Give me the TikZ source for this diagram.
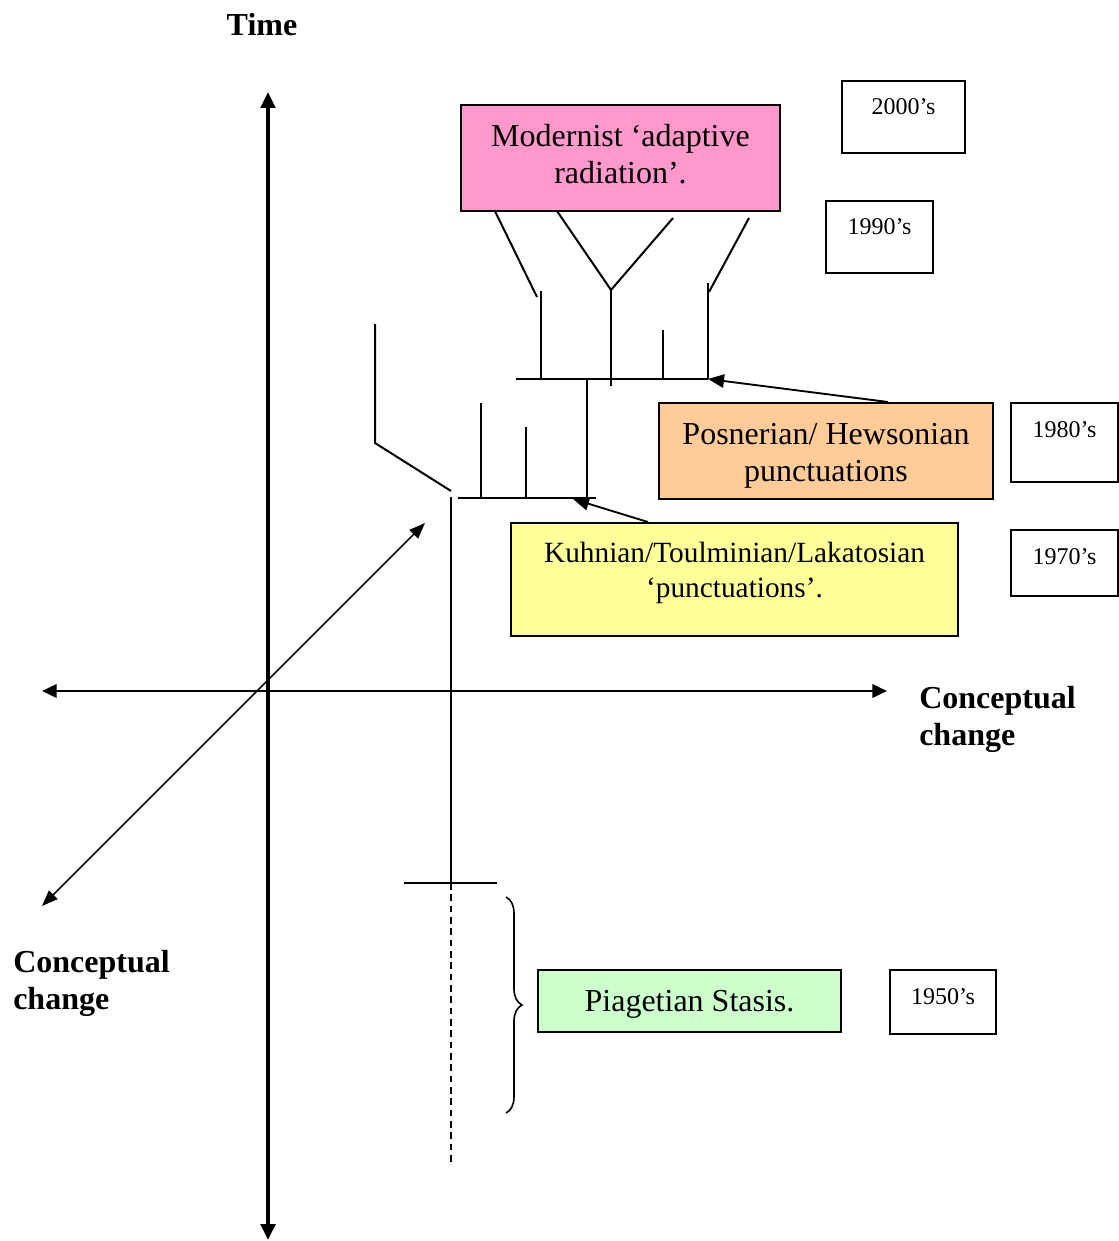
\documentclass[tikz,border=0pt]{standalone}
\usepackage{fontspec}
\setmainfont{Liberation Serif}
\usetikzlibrary{arrows.meta,decorations.pathreplacing}
\definecolor{pinkc}{HTML}{FF99CC}
\definecolor{orangec}{HTML}{FFCC99}
\definecolor{yellowc}{HTML}{FFFF99}
\definecolor{greenc}{HTML}{CCFFCC}
\begin{document}
\begin{tikzpicture}[x=0.75pt,y=-0.75pt,
  vaxis/.style={line width=2.6pt,{Triangle[length=12pt,width=11pt]}-{Triangle[length=12pt,width=11pt]}},
  haxis/.style={line width=1.9pt,{Triangle[length=11pt,width=10pt]}-{Triangle[length=11pt,width=10pt]}},
  daxis/.style={line width=1.3pt,{Triangle[length=12pt,width=9pt]}-{Triangle[length=12pt,width=9pt]}},
  tree/.style={line width=1.5pt},
  ptr/.style={line width=1.4pt,-{Triangle[length=12pt,width=10pt]}},
  box/.style={draw,line width=1.5pt,inner sep=0pt,align=center,font=\fontsize{24}{27.75}\selectfont},
  yearbox/.style={draw,line width=1.5pt,inner sep=0pt},
  yeartext/.style={font=\fontsize{18}{21}\selectfont,inner sep=0pt},
  axlabel/.style={font=\fontsize{24}{27.75}\selectfont\bfseries,align=left,inner sep=0pt}
]
\useasboundingbox (0,0) rectangle (1118,1241);

% axes
\coordinate (vtop) at (268,92);
\coordinate (vbot) at (268,1240);
\coordinate (hl) at (42,691);
\coordinate (hr) at (887,691);
\coordinate (dl) at (42,906);
\coordinate (dr) at (425,523);
\draw[vaxis] (vbot) -- (vtop);
\draw[haxis] (hl) -- (hr);
\draw[daxis] (dl) -- (dr);

\node[axlabel] (timelab) at (262,25) {Time};
\node[axlabel,anchor=north west] (cright) at (919,686) {Conceptual\\change};
\node[axlabel,anchor=north west] (cleft) at (13,950) {Conceptual\\change};

% tree coordinates
\coordinate (trtop) at (451,497);
\coordinate (trbase) at (451,883);
\coordinate (trend) at (451,1163);
\coordinate (bl) at (404,883);
\coordinate (br) at (497,883);
\coordinate (lb1) at (375,324);
\coordinate (lb2) at (375,443);
\coordinate (lb3) at (451,491);
\coordinate (lwl) at (458,498);
\coordinate (lwr) at (596,498);
\coordinate (lw1t) at (481,403);
\coordinate (lw1b) at (481,498);
\coordinate (lw2t) at (526,427);
\coordinate (lw2b) at (526,498);
\coordinate (cnt) at (587,379);
\coordinate (cnb) at (587,498);
\coordinate (upl) at (516,379);
\coordinate (upr) at (708,379);
\coordinate (u1t) at (541,291);
\coordinate (u1b) at (541,379);
\coordinate (u2t) at (611,290);
\coordinate (u2b) at (611,386);
\coordinate (u3t) at (663,330);
\coordinate (u3b) at (663,379);
\coordinate (u4t) at (708,283);
\coordinate (u4b) at (708,379);
\coordinate (d1a) at (490,201);
\coordinate (d1b) at (537,297);
\coordinate (d2a) at (557,211);
\coordinate (d2c) at (673,218);
\coordinate (d3a) at (749,218);
\coordinate (d3b) at (709,292);
\coordinate (lowarr) at (573,499);

\draw[tree] (trtop) -- (trbase);
\draw[tree,line width=1.2pt,dash pattern=on 5pt off 3.5pt] (trbase) -- (trend);
\draw[tree] (bl) -- (br);
\draw[tree] (lb1) -- (lb2) -- (lb3);
\draw[tree] (lwl) -- (lwr);
\draw[tree] (lw1t) -- (lw1b);
\draw[tree] (lw2t) -- (lw2b);
\draw[tree] (cnt) -- (cnb);
\draw[tree] (upl) -- (upr);
\draw[tree] (u1t) -- (u1b);
\draw[tree] (u2t) -- (u2b);
\draw[tree] (u3t) -- (u3b);
\draw[tree] (u4t) -- (u4b);
\draw[tree] (d1a) -- (d1b);
\draw[tree] (d2a) -- (u2t) -- (d2c);
\draw[tree] (d3a) -- (d3b);

% brace
\coordinate (bra) at (506,897);
\coordinate (brb) at (506,1113);
\draw[line width=1.2pt,decorate,decoration={brace,amplitude=12pt}] (bra) -- (brb);

% boxes
\node[box,fill=pinkc,minimum width={319*0.75pt},minimum height={106*0.75pt}] (modern) at (620.5,158) {};
\node[inner sep=0pt,align=center,font=\fontsize{24}{27.75}\selectfont] (modernT) at (620.5,154) {Modernist ‘adaptive\\radiation’.};

\node[box,fill=orangec,minimum width={334*0.75pt},minimum height={96*0.75pt}] (posner) at (826,451) {};
\node[inner sep=0pt,align=center,font=\fontsize{24}{27.75}\selectfont] (posnerT) at (826,456) {Posnerian/ Hewsonian\\punctuations};

\node[box,fill=yellowc,minimum width={447*0.75pt},minimum height={113*0.75pt}] (kuhn) at (734.5,579.5) {};
\node[inner sep=0pt,align=center,font=\fontsize{22}{26.25}\selectfont] (kuhnT) at (734.5,573) {Kuhnian/Toulminian/Lakatosian\\‘punctuations’.};

\node[box,fill=greenc,minimum width={303*0.75pt},minimum height={62*0.75pt}] (piaget) at (689.5,1001) {};
\node[inner sep=0pt,font=\fontsize{24}{27.75}\selectfont] (piagetT) at (689.5,1004) {Piagetian Stasis.};

% year boxes
\node[yearbox,minimum width={123*0.75pt},minimum height={72*0.75pt}] (y2000) at (903.5,117) {};
\node[yeartext] (y2000t) at (903.5,107) {2000’s};
\node[yearbox,minimum width={107*0.75pt},minimum height={72*0.75pt}] (y1990) at (879.5,237) {};
\node[yeartext] (y1990t) at (879.5,227) {1990’s};
\node[yearbox,minimum width={107*0.75pt},minimum height={79*0.75pt}] (y1980) at (1064.5,442.5) {};
\node[yeartext] (y1980t) at (1064.5,430) {1980’s};
\node[yearbox,minimum width={107*0.75pt},minimum height={66*0.75pt}] (y1970) at (1064.5,563) {};
\node[yeartext] (y1970t) at (1064.5,557) {1970’s};
\node[yearbox,minimum width={106*0.75pt},minimum height={64*0.75pt}] (y1950) at (943,1002) {};
\node[yeartext] (y1950t) at (943,997) {1950’s};

% pointers
\draw[ptr] ([xshift=46.5pt]posner.north) -- (u4b);
\draw[ptr] ([xshift=-64.9pt]kuhn.north) -- (lowarr);
\end{tikzpicture}
\end{document}
